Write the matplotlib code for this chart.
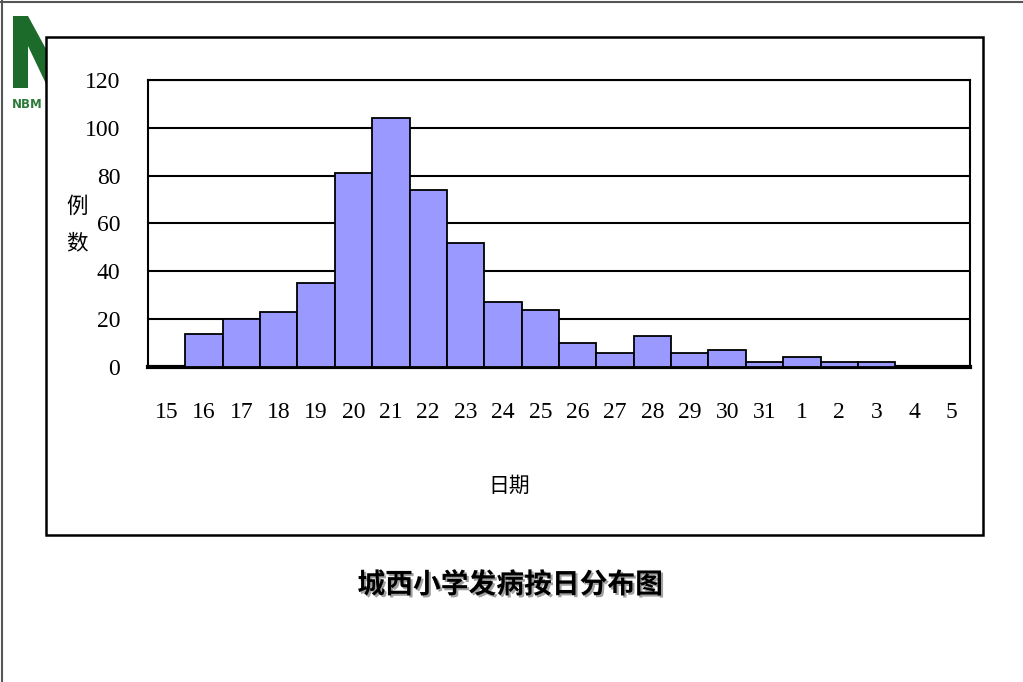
import matplotlib
matplotlib.use("Agg")
from matplotlib import pyplot as plt
from matplotlib.patches import Rectangle, Polygon
from matplotlib.lines import Line2D
import matplotlib.patheffects as pe

plt.rcParams['font.family'] = ['Liberation Serif', 'Noto Sans CJK SC']

# data
days = ['15', '16', '17', '18', '19', '20', '21', '22', '23', '24', '25',
        '26', '27', '28', '29', '30', '31', '1', '2', '3', '4', '5']
cases = [0, 14, 20, 23, 35, 81, 104, 74, 52, 27, 24,
         10, 6, 13, 6, 7, 2, 4, 2, 2, 0, 0]
yticks = [0, 20, 40, 60, 80, 100, 120]

title = '城西小学发病按日分布图'
xlab = '日期'
ylab = '例数'

fig = plt.figure(figsize=(10.23, 6.82), dpi=100)
W, H = 1023, 682


def px(x, y):
    return (x / W, 1 - y / H)


# page border (top / left)
fig.add_artist(Line2D([0.5 / W, 1], [1 - 1.5 / H, 1 - 1.5 / H], color='#555555', lw=1.5))
fig.add_artist(Line2D([1.5 / W, 1.5 / W], [0, 1], color='#555555', lw=1.5))

# logo "N", mostly hidden behind the chart box
n_shape = [px(13, 88), px(13, 16), px(28, 16), px(52, 60), px(52, 38),
           px(60, 38), px(60, 88), px(48, 88), px(28, 46), px(28, 88)]
fig.add_artist(Polygon(n_shape, closed=True, facecolor='#1d6b2a', edgecolor='none', zorder=1))
fig.text(12 / W, 1 - 108 / H, 'NBM', color='#2e7a3a', fontsize=8.5, fontweight='bold',
         family='DejaVu Sans', ha='left', va='baseline', zorder=1)

# chart frame
fig.add_artist(Rectangle(px(46, 535), (983 - 46) / W, (535 - 37) / H,
                         facecolor='white', edgecolor='black', lw=1.8, zorder=2))

ax = fig.add_axes([148 / W, 1 - 367 / H, (970 - 148) / W, (367 - 80) / H], zorder=3)
x = list(range(len(cases)))
ax.bar(x, cases, width=1.0, color='#9999ff', edgecolor='black', linewidth=1.3, zorder=3)
ax.set_xlim(-0.5, len(cases) - 0.5)
ax.set_ylim(0, 120)
ax.set_yticks(yticks)
ax.set_yticklabels([str(v) for v in yticks], fontsize=17)
ax.set_xticks(x)
ax.set_xticklabels(days, fontsize=17)
ax.tick_params(axis='both', length=0)
ax.tick_params(axis='y', pad=20)
ax.tick_params(axis='x', pad=25)
ax.grid(axis='y', color='black', lw=1.5, zorder=1)
ax.set_axisbelow(True)
for s in ['left', 'top', 'right']:
    ax.spines[s].set_linewidth(1.5)
ax.spines['bottom'].set_linewidth(3)

fig.text(509 / W, 1 - 486 / H, xlab, family='Noto Sans CJK SC', fontsize=15,
         ha='center', va='center', zorder=4)
fig.text(77 / W, 1 - 207 / H, ylab[0], family='Noto Sans CJK SC', fontsize=15.5,
         ha='center', va='center', zorder=4)
fig.text(77 / W, 1 - 243 / H, ylab[1], family='Noto Sans CJK SC', fontsize=15.5,
         ha='center', va='center', zorder=4)

fig.text(510 / W, 1 - 585 / H, title, family='Noto Sans CJK SC', fontsize=20,
         fontweight='bold', ha='center', va='center', zorder=4,
         path_effects=[pe.withSimplePatchShadow(offset=(1.5, -1.5), shadow_rgbFace='#888888', alpha=0.8)])

fig.savefig('out.png', dpi=100)
